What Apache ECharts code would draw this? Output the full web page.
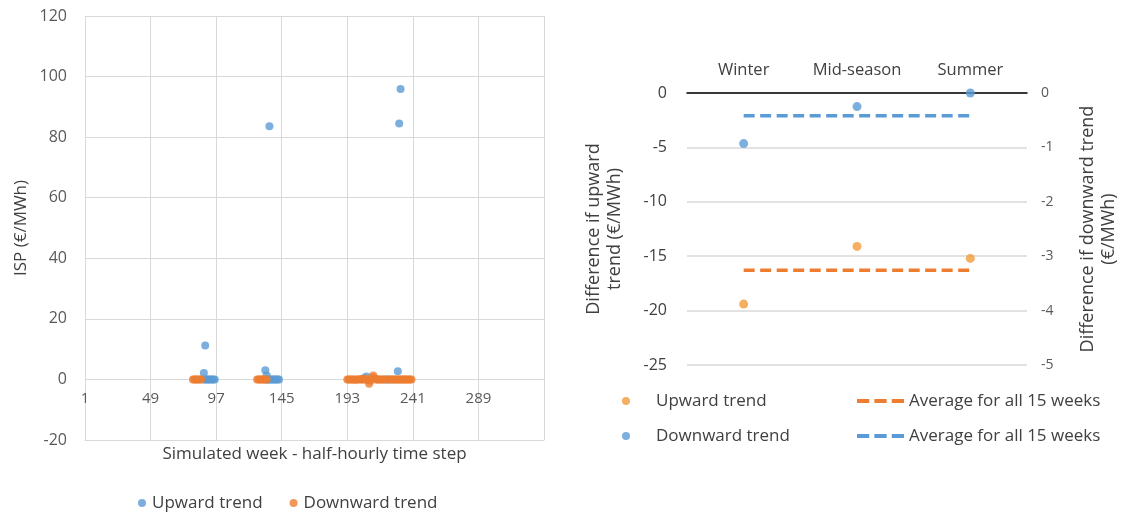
<!DOCTYPE html>
<html>
<head>
<meta charset="utf-8">
<script src="https://cdn.jsdelivr.net/npm/echarts@6/dist/echarts.min.js"></script>
<style>
html,body{margin:0;padding:0;background:#fff;}
#c{width:1124px;height:514px;}
</style>
</head>
<body>
<div id="c"></div>
<script>
// ---------- Left chart data ----------
const leftXTicks = [1, 49, 97, 145, 193, 241, 289, 337];
const leftUpward = [
  [88, 0], [88, 2.1], [89, 11.2], [89, 0], [90, 0], [91, 0], [92, 0], [93, 0], [94, 0], [95, 0], [96, 0],
  [133, 3.0], [134, 1.3], [134, 0], [135, 0], [136, 83.6], [136, 0], [137, 0], [138, 0], [139, 0],
  [140, 0], [141, 0], [142, 0], [143, 0],
  [205, 0.4], [207, 1.0], [222, 0.0], [223, 0.0], [230, 2.7], [231, 84.5], [232, 95.9]
];
const leftDownward = [
  [80, 0], [81, 0], [82, 0], [83, 0], [84, 0], [85, 0], [86, 0],
  [127, 0], [128, 0], [129, 0], [130, 0], [131, 0], [132, 0], [133, 0], [134, 0],
  [193, 0], [194, 0], [195, 0], [196, 0], [197, 0], [198, 0], [199, -0.1], [200, 0], [201, 0],
  [202, 0.1], [203, 0], [204, 0], [205, 0], [206, 0.2], [207, 0], [208, -0.3], [209, -1.4],
  [210, -0.4], [211, 0.6], [212, 1.3], [213, 0.4], [214, 0], [215, 0], [216, 0], [217, 0],
  [218, 0], [219, 0], [220, 0], [221, 0], [224, 0], [225, 0], [226, 0], [227, 0], [228, 0],
  [229, 0], [230, 0], [231, 0], [232, 0], [233, 0], [234, 0], [235, 0], [236, 0], [237, 0],
  [238, 0], [239, 0], [240, 0]
];

// ---------- Right chart data ----------
const seasons = ['Winter', 'Mid-season', 'Summer'];
const upwardDiff = [-19.4, -14.1, -15.2];
const upwardAvg = [-16.3, -16.3, -16.3];
const downwardDiff = [-0.93, -0.25, 0];
const downwardAvg = [-0.42, -0.42, -0.42];

const legendNames = {
  L_up: 'Upward trend', L_down: 'Downward trend',
  R_up: 'Upward trend', R_down: 'Downward trend',
  R_avgUp: 'Average for all 15 weeks', R_avgDown: 'Average for all 15 weeks'
};

const FONT = 'Open Sans';
const TXT = '#404040';
const LBL = '#595959';
const GRIDC = '#D9D9D9';
const BLUE = '#5B9BD5';
const ORANGE = '#ED7D31';
const ORANGE2 = '#F29B38';
const DASH = [11, 5.5];
const DASH_ICON = 'path://M0,0h12v4h-12z M17,0h12v4h-12z M34,0h12v4h-12z';

const chart = echarts.init(document.getElementById('c'), null, {renderer: 'canvas'});
chart.setOption({
  animation: false,
  backgroundColor: '#fff',
  textStyle: {fontFamily: FONT},
  grid: [
    {left: 85, right: 580, top: 16, bottom: 74, containLabel: false, outerBoundsMode: 'none'},
    {left: 687, right: 97, top: 93, bottom: 149, containLabel: false, outerBoundsMode: 'none'}
  ],
  legend: [
    {
      data: ['L_up', 'L_down'], left: 133, top: 488, orient: 'horizontal',
      icon: 'circle', itemWidth: 10, itemHeight: 8, itemGap: 27,
      formatter: n => legendNames[n],
      textStyle: {fontFamily: FONT, fontSize: 17, color: TXT, lineHeight: 20}
    },
    {
      data: ['R_up', 'R_down'], left: 617, top: 386, orient: 'vertical',
      icon: 'circle', itemWidth: 50, itemHeight: 8, itemGap: 15,
      formatter: n => legendNames[n],
      textStyle: {fontFamily: FONT, fontSize: 17, color: TXT, lineHeight: 20}
    },
    {
      data: ['R_avgUp', 'R_avgDown'], left: 852, top: 386, orient: 'vertical',
      icon: DASH_ICON, itemWidth: 47, itemHeight: 8, itemGap: 15,
      formatter: n => legendNames[n],
      textStyle: {fontFamily: FONT, fontSize: 17, color: TXT, lineHeight: 20}
    }
  ],
  xAxis: [
    {
      type: 'value', gridIndex: 0, min: leftXTicks[0], max: leftXTicks[leftXTicks.length - 1],
      interval: leftXTicks[1] - leftXTicks[0],
      name: 'Simulated week - half-hourly time step', nameLocation: 'middle', nameGap: 6,
      nameTextStyle: {fontFamily: FONT, fontSize: 17, color: TXT, verticalAlign: 'top'},
      axisLine: {show: true, onZero: false, lineStyle: {color: GRIDC, width: 1}},
      axisTick: {show: false},
      axisLabel: {margin: -49, showMaxLabel: false, fontFamily: FONT, fontSize: 15, color: LBL, verticalAlign: 'top'},
      splitLine: {show: true, lineStyle: {color: GRIDC, width: 1}}
    },
    {
      type: 'category', gridIndex: 1, data: seasons, position: 'top', boundaryGap: true,
      axisLine: {show: true, onZero: false, lineStyle: {color: '#000', width: 1.5}},
      axisTick: {show: false},
      axisLabel: {margin: 14, interval: 0, hideOverlap: false, fontFamily: FONT, fontSize: 16.5, color: TXT},
      splitLine: {show: false}
    }
  ],
  yAxis: [
    {
      type: 'value', gridIndex: 0, min: -20, max: 120, interval: 20,
      name: 'ISP (€/MWh)', nameLocation: 'middle', nameGap: 55, nameRotate: 90,
      nameTextStyle: {fontFamily: FONT, fontSize: 17, color: TXT},
      axisLine: {show: false}, axisTick: {show: false},
      axisLabel: {margin: 18, fontFamily: FONT, fontSize: 16, color: LBL},
      splitLine: {show: true, lineStyle: {color: GRIDC, width: 1}}
    },
    {
      type: 'value', gridIndex: 1, min: -25, max: 0, interval: 5, position: 'left',
      name: 'Difference if upward\ntrend (€/MWh)', nameLocation: 'middle', nameGap: 62, nameRotate: 90,
      nameTextStyle: {fontFamily: FONT, fontSize: 18, color: TXT, lineHeight: 21},
      axisLine: {show: false}, axisTick: {show: false},
      axisLabel: {margin: 20, fontFamily: FONT, fontSize: 16, color: TXT},
      splitLine: {show: true, lineStyle: {color: GRIDC, width: 1.5}}
    },
    {
      type: 'value', gridIndex: 1, min: -5, max: 0, interval: 1, position: 'right',
      name: 'Difference if downward trend\n(€/MWh)', nameLocation: 'middle', nameGap: 50, nameRotate: 90,
      nameTextStyle: {fontFamily: FONT, fontSize: 18, color: TXT, lineHeight: 21},
      axisLine: {show: false}, axisTick: {show: false},
      axisLabel: {margin: 14, fontFamily: FONT, fontSize: 14, color: LBL},
      splitLine: {show: false}
    }
  ],
  series: [
    {name: 'L_up', type: 'scatter', xAxisIndex: 0, yAxisIndex: 0, data: leftUpward,
     symbolSize: 8, itemStyle: {color: BLUE}, z: 2},
    {name: 'L_down', type: 'scatter', xAxisIndex: 0, yAxisIndex: 0, data: leftDownward,
     symbolSize: 8, itemStyle: {color: ORANGE}, z: 3},
    {name: 'R_avgUp', type: 'line', xAxisIndex: 1, yAxisIndex: 1, data: upwardAvg,
     symbol: 'none', showSymbol: false, lineStyle: {color: ORANGE, width: 3.5, type: DASH}, itemStyle: {color: ORANGE}, z: 2},
    {name: 'R_avgDown', type: 'line', xAxisIndex: 1, yAxisIndex: 2, data: downwardAvg,
     symbol: 'none', showSymbol: false, lineStyle: {color: BLUE, width: 3.5, type: DASH}, itemStyle: {color: BLUE}, z: 2},
    {name: 'R_up', type: 'scatter', xAxisIndex: 1, yAxisIndex: 1, data: upwardDiff,
     symbolSize: 9, itemStyle: {color: ORANGE2}, z: 4},
    {name: 'R_down', type: 'scatter', xAxisIndex: 1, yAxisIndex: 2, data: downwardDiff,
     symbolSize: 9, itemStyle: {color: BLUE}, z: 4}
  ]
});
</script>
</body>
</html>
